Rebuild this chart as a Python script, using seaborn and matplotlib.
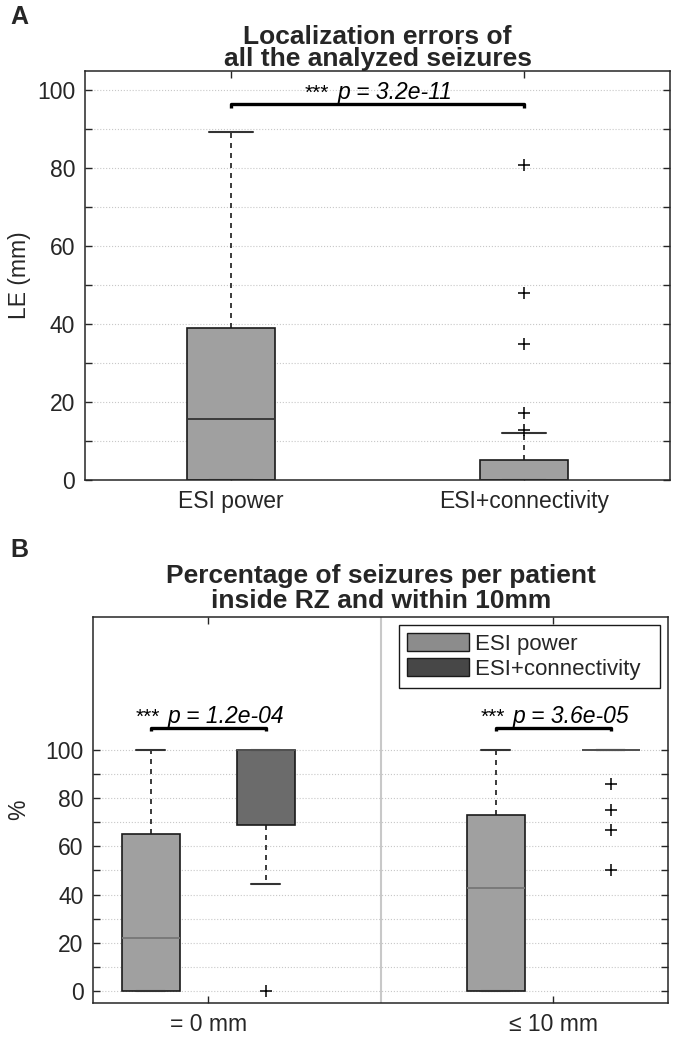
import numpy as np
import pandas as pd
import matplotlib
matplotlib.use("Agg")
import matplotlib.pyplot as plt
from matplotlib.patches import Patch
from matplotlib.ticker import MultipleLocator, FixedLocator
import seaborn as sns

# ---- panel A: localization errors of all analyzed seizures (mm) ----
a_labels = ["ESI power", "ESI+connectivity"]
a_whislo = [0.0, 0.0]
a_q1 = [0.0, 0.0]
a_med = [15.8, 0.0]
a_q3 = [39.0, 5.2]
a_whishi = [89.4, 12.2]
a_fliers = [[], [13.0, 17.2, 35.0, 48.0, 81.0]]
a_pval = "3.2e-11"
a_bar_y = 96.6

# ---- panel B: percentage of seizures per patient (%) ----
b_labels = ["= 0 mm", "\u2264 10 mm"]
b_series = ["ESI power", "ESI+connectivity"]
pow_whislo = [0.0, 0.0]
pow_q1 = [0.0, 0.0]
pow_med = [22.1, 42.9]
pow_q3 = [65.0, 73.0]
pow_whishi = [100.0, 100.0]
pow_fliers = [[], []]
con_whislo = [44.4, 100.0]
con_q1 = [68.7, 100.0]
con_med = [100.0, 100.0]
con_q3 = [100.0, 100.0]
con_whishi = [100.0, 100.0]
con_fliers = [[0.0], [85.7, 75.0, 66.7, 50.0]]
b_pvals = ["1.2e-04", "3.6e-05"]
b_bar_y = 109.0

sns.set_style("ticks")
plt.rcParams['font.family'] = ['Liberation Sans', 'DejaVu Sans']

INK = '#262626'


def make_stats(whislo, q1, med, q3, whishi, fliers):
    return [dict(whislo=a, q1=b, med=c, q3=d, whishi=e, fliers=f)
            for a, b, c, d, e, f in zip(whislo, q1, med, q3, whishi, fliers)]


def draw_boxes(ax, stats, pos, width, face, med_color):
    ax.bxp(stats, positions=pos, widths=width, patch_artist=True, showfliers=False,
           manage_ticks=False,
           boxprops=dict(facecolor=face, edgecolor='#1a1a1a', linewidth=1.2),
           whiskerprops=dict(color='#1a1a1a', linewidth=1.2, linestyle=(0, (3, 3))),
           capprops=dict(color='#333333', linewidth=1.5),
           medianprops=dict(color=med_color, linewidth=1.3))


def draw_fliers(ax, pos, fliers):
    xs, ys = [], []
    for p, f in zip(pos, fliers):
        xs += [p] * len(f)
        ys += list(f)
    df = pd.DataFrame({'x': xs, 'y': ys})
    sns.scatterplot(data=df, x='x', y='y', marker='+', color='black', s=85,
                    linewidth=1.1, ax=ax, legend=False, zorder=4)


def sig_bar(ax, x1, x2, y, pval, drop):
    ax.plot([x1, x1, x2, x2], [y - drop, y, y, y - drop], color='black', lw=2.4,
            solid_capstyle='butt', zorder=5)
    xm = (x1 + x2) / 2
    # stars upright, p-value italic, together centred on the bar
    ax.annotate("***", xy=(xm, y), xytext=(-35, 3.5), textcoords='offset points',
                ha='right', va='baseline', fontsize=15, color='black')
    ax.annotate("p = " + pval, xy=(xm, y), xytext=(-29, 3.5), textcoords='offset points',
                ha='left', va='baseline', fontsize=16.5, fontstyle='italic', color='black')


def style_axis(ax):
    for s in ax.spines.values():
        s.set_color(INK)
        s.set_linewidth(1.1)
    ax.tick_params(which='both', direction='in', length=5, width=1, top=True, right=True,
                   color=INK, labelcolor=INK, labelsize=16.5, pad=7)
    ax.grid(which='both', axis='y', linestyle=':', color='#c8c8c8', linewidth=0.8)
    ax.set_axisbelow(True)


fig = plt.figure(figsize=(6.73, 10.43), dpi=100)

# ---------- A ----------
axA = fig.add_axes([85 / 673, 1 - 480.3 / 1043, 585 / 673, 409.3 / 1043])
posA = [1, 2]
draw_boxes(axA, make_stats(a_whislo, a_q1, a_med, a_q3, a_whishi, a_fliers),
           posA, 0.3, '#a0a0a0', '#333333')
draw_fliers(axA, posA, a_fliers)
sig_bar(axA, posA[0], posA[1], a_bar_y, a_pval, 1.0)
axA.set_xlim(0.5, 2.5)
axA.set_ylim(0, 105)
axA.yaxis.set_major_locator(MultipleLocator(20))
axA.yaxis.set_minor_locator(MultipleLocator(10))
axA.set_xticks(posA)
axA.set_xticklabels(a_labels)
style_axis(axA)
axA.set_xlabel("")
axA.set_ylabel("LE (mm)", fontsize=16.5, color=INK)
axA.yaxis.set_label_coords(-0.092, 0.5)
axA.set_title("Localization errors of\nall the analyzed seizures", fontsize=19,
              fontweight='bold', linespacing=0.9, pad=1.5)

# ---------- B ----------
axB = fig.add_axes([93.3 / 673, 1 - 1003.3 / 1043, 575 / 673, 386.6 / 1043])
grp = np.array([1.0, 2.0])
off = 1 / 6
posP = list(grp - off)
posC = list(grp + off)
axB.axvline(1.5, color='#c8c8c8', lw=1.5, zorder=1)
draw_boxes(axB, make_stats(pow_whislo, pow_q1, pow_med, pow_q3, pow_whishi, pow_fliers),
           posP, 1 / 6, '#a0a0a0', '#777777')
draw_boxes(axB, make_stats(con_whislo, con_q1, con_med, con_q3, con_whishi, con_fliers),
           posC, 1 / 6, '#6b6b6b', '#555555')
draw_fliers(axB, posC, con_fliers)
for i in range(2):
    sig_bar(axB, posP[i], posC[i], b_bar_y, b_pvals[i], 1.3)
axB.set_xlim(2 / 3, 7 / 3)
axB.set_ylim(-5, 155)
axB.yaxis.set_major_locator(FixedLocator([0, 20, 40, 60, 80, 100]))
axB.yaxis.set_minor_locator(FixedLocator([10, 30, 50, 70, 90]))
axB.set_xticks(list(grp))
axB.set_xticklabels(b_labels)
style_axis(axB)
axB.set_xlabel("")
axB.set_ylabel("%", fontsize=16.5, color=INK)
axB.yaxis.set_label_coords(-0.110, 0.5)
axB.set_title("Percentage of seizures per patient\ninside RZ and within 10mm",
              fontsize=19, fontweight='bold', linespacing=1.05, pad=6)
handles = [Patch(facecolor='#8c8c8c', edgecolor='#1a1a1a', linewidth=1),
           Patch(facecolor='#474747', edgecolor='#1a1a1a', linewidth=1)]
leg = axB.legend(handles, [s + "  " for s in b_series], loc='upper right', fontsize=16,
                 frameon=True, fancybox=False, edgecolor='#1a1a1a', framealpha=1,
                 borderaxespad=0.37, handlelength=2.8, handleheight=0.9, handletextpad=0.25,
                 labelspacing=0.15, borderpad=0.35)
leg.get_frame().set_linewidth(1.0)

fig.text(10 / 673, 1 - 17 / 1043, "A", fontsize=18, fontweight='bold', va='center', ha='left')
fig.text(10 / 673, 1 - 550 / 1043, "B", fontsize=18, fontweight='bold', va='center', ha='left')

fig.savefig("out.png", dpi=100)
